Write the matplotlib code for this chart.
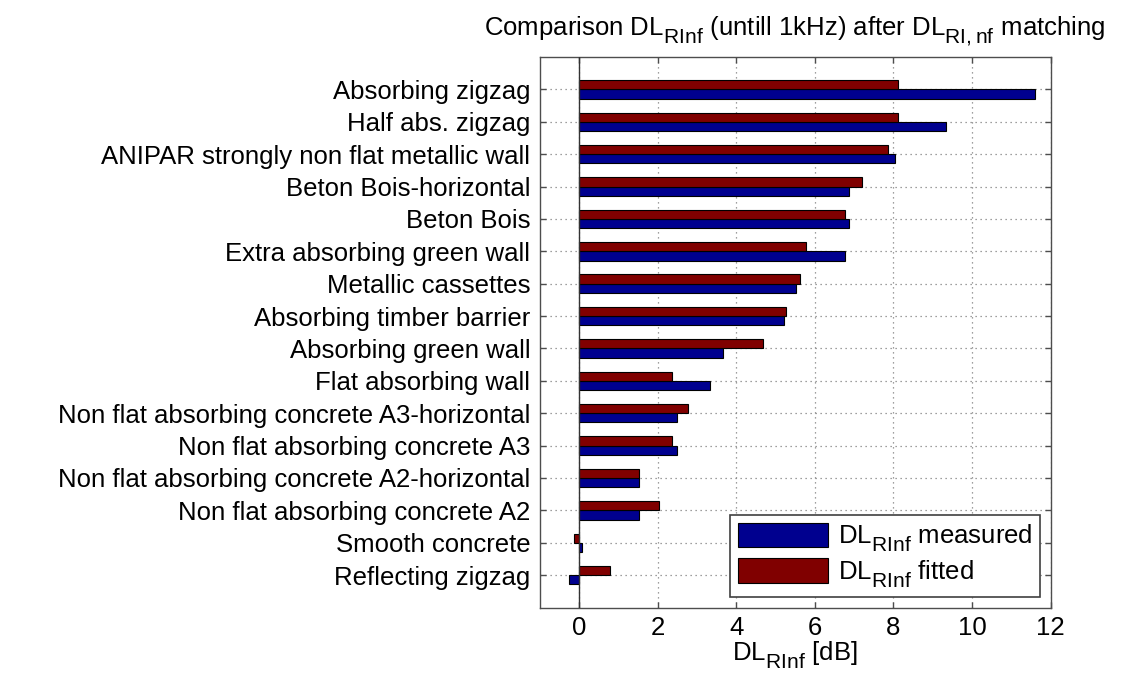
import numpy as np
import matplotlib
matplotlib.use('Agg')
import matplotlib.pyplot as plt
import matplotlib._mathtext as mathtext_internal

plt.rcParams['font.family'] = ['Liberation Sans', 'DejaVu Sans']
plt.rcParams['mathtext.fontset'] = 'custom'
plt.rcParams['mathtext.rm'] = 'Liberation Sans'
plt.rcParams['mathtext.it'] = 'Liberation Sans:italic'
plt.rcParams['mathtext.bf'] = 'Liberation Sans:bold'
# bigger, lower subscripts, like the original MATLAB figure
mathtext_internal.SHRINK_FACTOR = 0.82
mathtext_internal.FontConstantsBase.sub1 = 0.6

# Data, listed top to bottom as in the chart
categories = [
    'Absorbing zigzag',
    'Half abs. zigzag',
    'ANIPAR strongly non flat metallic wall',
    'Beton Bois-horizontal',
    'Beton Bois',
    'Extra absorbing green wall',
    'Metallic cassettes',
    'Absorbing timber barrier',
    'Absorbing green wall',
    'Flat absorbing wall',
    'Non flat absorbing concrete A3-horizontal',
    'Non flat absorbing concrete A3',
    'Non flat absorbing concrete A2-horizontal',
    'Non flat absorbing concrete A2',
    'Smooth concrete',
    'Reflecting zigzag',
]
measured = [11.61, 9.35, 8.04, 6.88, 6.88, 6.77, 5.51, 5.21, 3.67, 3.34,
            2.50, 2.50, 1.53, 1.53, 0.06, -0.25]
fitted = [8.11, 8.11, 7.87, 7.20, 6.76, 5.77, 5.61, 5.27, 4.67, 2.36,
          2.76, 2.36, 1.53, 2.03, -0.14, 0.79]

fs = 18.5
blue = '#00008f'
red = '#800000'

fig = plt.figure(figsize=(11.33, 6.73), dpi=100)
ax = fig.add_axes([540 / 1133, 1 - 607.5 / 673, 510.5 / 1133, 550.5 / 673])

n = len(categories)
pos = np.arange(n, 0, -1)   # first category at top
h = 0.285

ax.barh(pos - h / 2, measured, h, color=blue, edgecolor='black', linewidth=0.8,
        label=r'DL$_{\mathrm{RInf}}$ measured', zorder=3)
ax.barh(pos + h / 2, fitted, h, color=red, edgecolor='black', linewidth=0.8,
        label=r'DL$_{\mathrm{RInf}}$ fitted', zorder=3)
ax.axvline(0, color='0.2', linewidth=1, zorder=4)

ax.set_xlim(-1, 12)
ax.set_ylim(0, 17)
ax.set_xticks(np.arange(0, 13, 2))
ax.set_yticks(pos)
ax.set_yticklabels(categories)

ax.grid(True, color='0.5', linestyle=(0, (1, 3)), linewidth=0.9, zorder=0)
ax.set_axisbelow(True)
ax.tick_params(direction='in', top=True, right=True, length=4, width=1,
               color='0.3', labelsize=fs)
ax.tick_params(axis='x', pad=6)
ax.tick_params(axis='y', pad=7)
for s in ax.spines.values():
    s.set_color('0.3')
    s.set_linewidth(1)

ax.set_xlabel(r'DL$_{\mathrm{RInf}}$ [dB]', fontsize=fs, labelpad=0)
ax.set_title(r'Comparison DL$_{\mathrm{RInf}}$ (untill 1kHz) after DL$_{\mathrm{RI,nf}}$ matching',
             fontsize=fs, pad=16)

leg = ax.legend(loc='lower right', fontsize=fs, fancybox=False, framealpha=1,
                edgecolor='0.25', handlelength=3.5, handleheight=1.08,
                handletextpad=0.4, labelspacing=0.15, borderpad=0.3,
                borderaxespad=0.4)
leg.get_frame().set_linewidth(1.2)

fig.savefig('out.png', dpi=100)
